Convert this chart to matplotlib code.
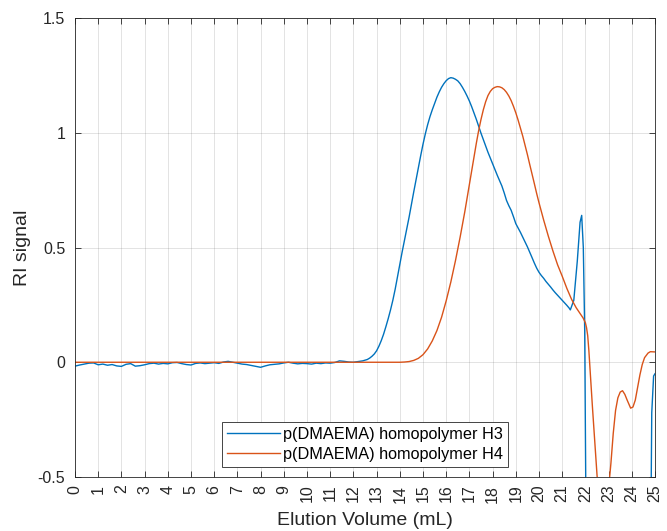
import matplotlib
matplotlib.use("Agg")
import matplotlib.pyplot as plt

plt.rcParams['font.family'] = ['Liberation Sans', 'DejaVu Sans']

# ---- data ----
h3_x = [0.0, 0.2, 0.4, 0.6, 0.8, 1.0, 1.2, 1.4, 1.6, 1.8, 2.0, 2.2, 2.4, 2.6, 2.8,
        3.0, 3.2, 3.4, 3.6, 3.8, 4.0, 4.2, 4.4, 4.6, 4.8, 5.0, 5.2, 5.4, 5.6, 5.8,
        6.0, 6.2, 6.4, 6.6, 6.8, 7.0, 7.2, 7.4, 7.6, 7.8, 8.0, 8.2, 8.4, 8.6, 8.8,
        9.0, 9.2, 9.4, 9.6, 9.8, 10.0, 10.2, 10.4, 10.6, 10.8, 11.0, 11.2, 11.4,
        11.6, 11.8, 12.0, 12.2, 12.4, 12.6, 12.7, 12.8, 12.9, 13.0, 13.1, 13.2,
        13.3, 13.4, 13.5, 13.6, 13.7, 13.8, 13.9, 14.0, 14.1, 14.2, 14.3, 14.4,
        14.5, 14.6, 14.7, 14.8, 14.9, 15.0, 15.1, 15.2, 15.3, 15.4, 15.5, 15.6,
        15.7, 15.8, 15.9, 16.0, 16.1, 16.2, 16.3, 16.4, 16.5, 16.6, 16.7, 16.8,
        16.9, 17.0, 17.1, 17.2, 17.3, 17.4, 17.5, 17.6, 17.7, 17.8, 17.9, 18.0,
        18.1, 18.2, 18.3, 18.4, 18.5, 18.6, 18.7, 18.8, 18.9, 19.0, 19.1, 19.2,
        19.3, 19.4, 19.5, 19.6, 19.7, 19.8, 19.9, 20.0, 20.1, 20.2, 20.3, 20.4,
        20.5, 20.6, 20.7, 20.8, 20.9, 21.0, 21.1, 21.2, 21.3, 21.35, 21.5, 21.65,
        21.77, 21.84, 21.91, 21.97, 22.02, 22.1, 24.8, 24.86, 24.94, 25.0]
h3_y = [-0.017, -0.012, -0.008, -0.004, -0.003, -0.011, -0.008, -0.013, -0.010,
        -0.016, -0.018, -0.009, -0.006, -0.017, -0.015, -0.011, -0.006, -0.004,
        -0.008, -0.005, -0.007, -0.002, -0.001, -0.006, -0.010, -0.012, -0.005,
        -0.003, -0.006, -0.004, -0.002, -0.005, 0.001, 0.004, 0.000, -0.004,
        -0.008, -0.010, -0.014, -0.018, -0.022, -0.016, -0.011, -0.009, -0.007,
        -0.003, 0.000, -0.004, -0.007, -0.005, -0.006, -0.008, -0.004, -0.006,
        -0.003, -0.004, -0.001, 0.006, 0.004, 0.001, 0.000, 0.003, 0.006, 0.012,
        0.018, 0.026, 0.036, 0.050, 0.070, 0.094, 0.122, 0.155, 0.190, 0.228,
        0.270, 0.318, 0.372, 0.428, 0.480, 0.530, 0.580, 0.632, 0.688, 0.742,
        0.795, 0.848, 0.900, 0.950, 0.995, 1.035, 1.070, 1.100, 1.128, 1.155,
        1.178, 1.198, 1.214, 1.227, 1.236, 1.240, 1.238, 1.233, 1.226, 1.214,
        1.198, 1.180, 1.160, 1.138, 1.113, 1.086, 1.058, 1.028, 0.998, 0.970,
        0.943, 0.915, 0.890, 0.866, 0.840, 0.815, 0.792, 0.768, 0.738, 0.705,
        0.682, 0.662, 0.634, 0.604, 0.585, 0.566, 0.545, 0.525, 0.503, 0.480,
        0.456, 0.432, 0.410, 0.392, 0.378, 0.366, 0.352, 0.340, 0.328, 0.315,
        0.303, 0.292, 0.281, 0.270, 0.259, 0.248, 0.236, 0.228, 0.27, 0.44, 0.61,
        0.64, 0.50, 0.14, -0.6, -1.0, -1.0, -0.22, -0.06, -0.05]

h4_x = [0.0, 14.0, 14.2, 14.4, 14.6, 14.8, 15.0, 15.2, 15.4, 15.6, 15.8, 16.0,
        16.2, 16.4, 16.6, 16.8, 17.0, 17.1, 17.2, 17.3, 17.4, 17.5, 17.6, 17.7,
        17.8, 17.9, 18.0, 18.1, 18.2, 18.3, 18.4, 18.5, 18.6, 18.7, 18.8, 18.9,
        19.0, 19.1, 19.2, 19.3, 19.4, 19.5, 19.6, 19.7, 19.8, 19.9, 20.0, 20.2,
        20.4, 20.6, 20.8, 21.0, 21.2, 21.4, 21.6, 21.8, 21.9, 22.0, 22.05, 22.1,
        22.15, 22.2, 22.3, 22.4, 22.5, 22.6, 22.75, 22.9, 23.0, 23.1, 23.2, 23.3,
        23.4, 23.5, 23.6, 23.7, 23.8, 23.95, 24.05, 24.15, 24.25, 24.35, 24.45,
        24.55, 24.7, 24.8, 25.0]
h4_y = [0.0, 0.0, 0.001, 0.003, 0.008, 0.017, 0.033, 0.058, 0.093, 0.138, 0.196,
        0.268, 0.350, 0.443, 0.545, 0.655, 0.775, 0.835, 0.895, 0.955, 1.010,
        1.058, 1.100, 1.135, 1.162, 1.180, 1.192, 1.198, 1.201, 1.200, 1.196,
        1.188, 1.176, 1.160, 1.140, 1.115, 1.087, 1.055, 1.020, 0.985, 0.945,
        0.905, 0.862, 0.820, 0.778, 0.735, 0.695, 0.620, 0.550, 0.485, 0.425,
        0.375, 0.322, 0.275, 0.238, 0.208, 0.193, 0.172, 0.150, 0.115, 0.050,
        -0.030, -0.19, -0.34, -0.49, -0.62, -0.68, -0.64, -0.55, -0.44, -0.31,
        -0.21, -0.155, -0.13, -0.124, -0.14, -0.165, -0.20, -0.195, -0.165,
        -0.11, -0.055, -0.01, 0.02, 0.04, 0.046, 0.045]

labels = ['p(DMAEMA) homopolymer H3', 'p(DMAEMA) homopolymer H4']
x_ticks = list(range(0, 26))
y_ticks = [-0.5, 0, 0.5, 1, 1.5]
y_tick_labels = ['-0.5', '0', '0.5', '1', '1.5']

# ---- figure ----
fig = plt.figure(figsize=(6.67, 5.31), dpi=100)
ax = fig.add_axes([75/667, 1 - 477/531, 580/667, 459/531])

ax.plot(h3_x, h3_y, color='#0072BD', lw=1.0, label=labels[0])
ax.plot(h4_x, h4_y, color='#D95319', lw=1.0, label=labels[1])

ax.set_xlim(0, 25)
ax.set_ylim(-0.5, 1.5)
ax.set_xticks(x_ticks)
ax.set_xticklabels([str(t) for t in x_ticks], rotation=90, va='top', ha='center')
ax.set_yticks(y_ticks)
ax.set_yticklabels(y_tick_labels)

ax.grid(True, color='#262626', alpha=0.15, lw=0.6)
ax.set_axisbelow(True)
ax.tick_params(direction='in', top=True, right=True, length=4, width=0.6,
               colors='#262626', labelsize=11.5)
ax.tick_params(axis='y', pad=7)
ax.tick_params(axis='x', pad=5.5)
for s in ax.spines.values():
    s.set_color('#262626')
    s.set_linewidth(0.6)

ax.set_xlabel('Elution Volume (mL)', fontsize=14, color='#262626', labelpad=7)
ax.set_ylabel('RI signal', fontsize=14, color='#262626', labelpad=5)

leg = ax.legend(loc='lower center', bbox_to_anchor=(0.5, 0.022), fontsize=11.7,
                frameon=True, fancybox=False, framealpha=1, edgecolor='#262626',
                handlelength=3.25, handletextpad=0.2, borderpad=0.3,
                labelspacing=0.33, borderaxespad=0)
leg.get_frame().set_linewidth(0.6)

fig.savefig('out.png', dpi=100)
